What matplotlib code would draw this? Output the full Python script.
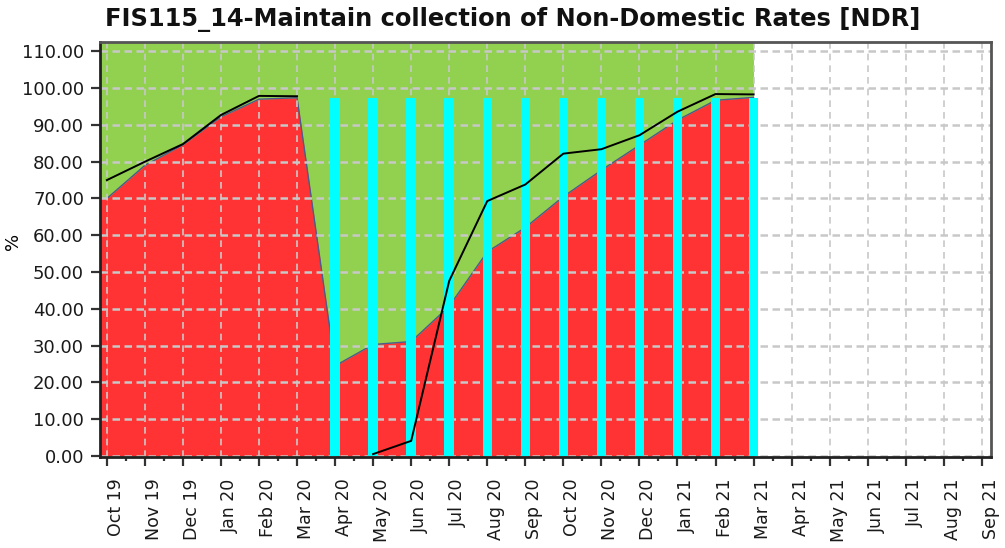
import numpy as np
import matplotlib
matplotlib.use("Agg")
import matplotlib.pyplot as plt

months = ["Oct 19", "Nov 19", "Dec 19", "Jan 20", "Feb 20", "Mar 20",
          "Apr 20", "May 20", "Jun 20", "Jul 20", "Aug 20", "Sep 20",
          "Oct 20", "Nov 20", "Dec 20", "Jan 21", "Feb 21", "Mar 21",
          "Apr 21", "May 21", "Jun 21", "Jul 21", "Aug 21", "Sep 21"]

# collected % (red area), Oct 19 .. Mar 21
collected = [70.0, 79.0, 84.6, 92.2, 97.0, 97.4,
             24.5, 30.3, 31.1, 40.7, 55.5, 62.1,
             70.5, 77.7, 84.5, 91.3, 96.7, 97.5]
# comparison line (black), gap at Apr 20
previous = [75.0, 80.0, 84.8, 92.7, 97.9, 97.8,
            np.nan, 0.5, 4.1, 47.6, 69.3, 73.8,
            82.2, 83.4, 87.2, 93.6, 98.4, 98.3]
# target bars, Apr 20 .. Mar 21
target_months = months[6:18]
target = [97.2] * 12

RED = "#FF3333"
GREEN = "#92D050"
CYAN = "#00FFFF"

fig = plt.figure(figsize=(10.05, 5.48), dpi=100)
ax = fig.add_axes([0.0995, 0.166, 0.8865, 0.757])

x_all = np.arange(len(months))
x_data = np.arange(len(collected))
xmin, xmax = -0.18, len(months) - 1 + 0.24
ymin, ymax = -0.3, 112.5

# green background up to the last reported month, red area on top
ax.axvspan(xmin, x_data[-1], color=GREEN, lw=0, zorder=0.5)
ax.fill_between([xmin, 0], collected[0], 0, color=RED, lw=0, zorder=0.6)
ax.fill_between(x_data, collected, 0, color=RED, lw=0, zorder=0.6)
ax.plot(x_data, collected, color="#4A5C8C", lw=1, zorder=0.7)

ax.set_xlim(xmin, xmax)
ax.set_ylim(ymin, ymax)

ax.set_axisbelow("line")
ax.grid(True, which="major", axis="y", color="#C8C8C8", ls=(0, (3, 1.8)), lw=1.8)
ax.grid(True, which="major", axis="x", color="#C8C8C8", ls=(0, (4, 3)), lw=1.2)

tx = [months.index(m) for m in target_months]
ax.bar(tx, target, width=0.25, color=CYAN, lw=0, zorder=2)

ax.plot(x_data, previous, color="black", lw=1.4, zorder=3)

ax.set_yticks(np.arange(0, 111, 10))
ax.set_yticklabels([f"{v:.2f}" for v in np.arange(0, 111, 10)])
ax.set_xticks(x_all)
ax.set_xticklabels(months, rotation=90, ha="left", va="top")
ax.set_xticks(x_all[:-1] + 0.5, minor=True)

ax.tick_params(axis="both", which="major", length=6.5, width=1.6, color="#333333",
               labelcolor="#1a1a1a")
ax.tick_params(axis="y", pad=5, labelsize=13)
ax.tick_params(axis="x", pad=9, labelsize=12.5)
ax.tick_params(axis="x", which="minor", length=3, width=1.6, color="#333333")

for side in ["left", "bottom"]:
    ax.spines[side].set_color("#222222")
    ax.spines[side].set_linewidth(2)
for side in ["top", "right"]:
    ax.spines[side].set_color("#555555")
    ax.spines[side].set_linewidth(2)

ax.set_ylabel("%", fontsize=13, labelpad=2)
ax.yaxis.set_label_coords(-0.088, 0.52)

fig.text(0.104, 0.965, "FIS115_14-Maintain collection of Non-Domestic Rates [NDR]",
         fontsize=17.4, fontweight="bold", color="#111111", ha="left", va="center")

fig.savefig("out.png", dpi=100)
